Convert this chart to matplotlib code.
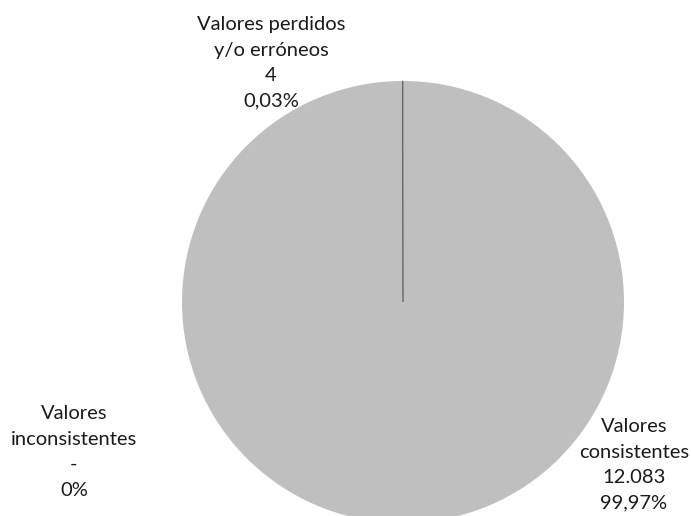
import matplotlib.pyplot as plt

categories = ["Valores consistentes", "Valores perdidos y/o erróneos", "Valores inconsistentes"]
counts = [12083, 4, 0]
count_labels = ["12.083", "4", "-"]
pct_labels = ["99,97%", "0,03%", "0%"]
label_text = ["Valores\nconsistentes", "Valores perdidos\ny/o erróneos", "Valores\ninconsistentes"]

plt.rcParams['font.family'] = ['Lato', 'DejaVu Sans']

W, H = 691, 516
fig = plt.figure(figsize=(W / 100, H / 100), dpi=100)
ax = fig.add_axes([0, 0, 1, 1])

wedges, _ = ax.pie(counts, colors=["#bfbfbf", "#666666", "#a5a5a5"], startangle=90,
                   counterclock=False, center=(403, H - 302), radius=221,
                   wedgeprops=dict(linewidth=0))
# thin slice only shows as a line, give it an outline so it stays visible
wedges[1].set_edgecolor("#666666")
wedges[1].set_linewidth(0.5)

ax.set_xlim(0, W)
ax.set_ylim(0, H)
ax.set_aspect("equal")
ax.axis("off")

# label positions (pixel coords from top-left)
label_pos = [(634, 465), (271, 63), (74, 452)]
for txt, n, p, (x, y) in zip(label_text, count_labels, pct_labels, label_pos):
    ax.text(x, H - y, f"{txt}\n{n}\n{p}", ha="center", va="center",
            fontsize=14.5, color="#1a1a1a", linespacing=1.6)

fig.savefig("out.png", dpi=100, facecolor="white")
